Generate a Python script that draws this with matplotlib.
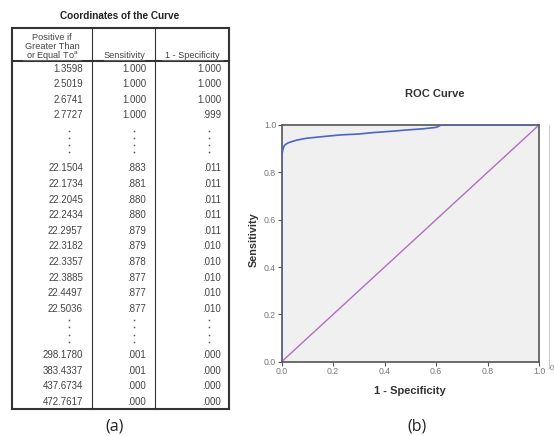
import matplotlib
matplotlib.use("Agg")
import matplotlib.pyplot as plt
from matplotlib.lines import Line2D

# ---------------- data ----------------
# table (a): coordinates of the curve
thr_top = ["1.3598", "2.5019", "2.6741", "2.7727"]
sens_top = ["1.000", "1.000", "1.000", "1.000"]
spec_top = ["1.000", "1.000", "1.000", ".999"]

thr_mid = ["22.1504", "22.1734", "22.2045", "22.2434", "22.2957",
           "22.3182", "22.3357", "22.3885", "22.4497", "22.5036"]
sens_mid = [".883", ".881", ".880", ".880", ".879",
            ".879", ".878", ".877", ".877", ".877"]
spec_mid = [".011", ".011", ".011", ".011", ".011",
            ".010", ".010", ".010", ".010", ".010"]

thr_bot = ["298.1780", "383.4337", "437.6734", "472.7617"]
sens_bot = [".001", ".001", ".000", ".000"]
spec_bot = [".000", ".000", ".000", ".000"]

# plot (b): ROC curve
roc_fpr = [0.0, 0.0, 0.0, 0.002, 0.004, 0.009, 0.015, 0.026, 0.04, 0.058,
           0.097, 0.15, 0.227, 0.3, 0.356, 0.42, 0.486, 0.55, 0.6, 0.62, 0.7, 0.85, 1.0]
roc_tpr = [0.0, 0.5, 0.866, 0.88, 0.894, 0.911, 0.918, 0.925, 0.93, 0.936,
           0.944, 0.95, 0.958, 0.962, 0.968, 0.973, 0.979, 0.984, 0.99, 1.0, 1.0, 1.0, 1.0]
ref_x = [0.0, 1.0]
ref_y = [0.0, 1.0]
ticks = [0.0, 0.2, 0.4, 0.6, 0.8, 1.0]

# ---------------- figure ----------------
W, H = 554, 436
fig = plt.figure(figsize=(W / 100, H / 100), dpi=100)
fig.patch.set_facecolor("white")

# full-figure overlay in pixel coordinates for the table
ov = fig.add_axes([0, 0, 1, 1])
ov.set_xlim(0, W)
ov.set_ylim(H, 0)
ov.axis("off")

tf = "Liberation Sans"
tc = "#444444"
fs = 7

ov.text(120, 16, "Coordinates of the Curve", ha="center", va="center",
        fontsize=7.2, fontweight="bold", family=tf, color="#222222")

# table frame
L, C1, C2, R = 11.7, 92.3, 155, 228.5
T, HB, B = 27.7, 61, 409.3
lc = "#333333"
for x in (L, R):
    ov.add_line(Line2D([x, x], [T, B], color=lc, lw=1.5))
for x in (C1, C2):
    ov.add_line(Line2D([x, x], [T, B], color=lc, lw=0.8))
ov.add_line(Line2D([L, R], [T, T], color=lc, lw=1.5))
ov.add_line(Line2D([L, R], [B, B], color=lc, lw=1.5))
ov.add_line(Line2D([L, R], [HB, HB], color=lc, lw=1.5))

# header
hdr_fs = 6.6
ov.text(52, 37, "Positive if", ha="center", va="center", fontsize=hdr_fs, family=tf, color=tc)
ov.text(52, 46.5, "Greater Than", ha="center", va="center", fontsize=hdr_fs, family=tf, color=tc)
ov.text(52, 56, "or Equal To$^{\\mathregular{a}}$", ha="center", va="center",
        fontsize=hdr_fs, family=tf, color=tc)
ov.text(124, 56, "Sensitivity", ha="center", va="center", fontsize=hdr_fs, family=tf, color=tc)
ov.text(192, 56, "1 - Specificity", ha="center", va="center", fontsize=hdr_fs, family=tf, color=tc)
for x0, x1 in ((23, 81), (104, 144), (162, 223)):
    ov.add_line(Line2D([x0, x1], [59.8, 59.8], color="#777777", lw=0.5))

col_x = [83, 146, 221]

def put_rows(y0, dy, cols):
    for i, (a, b, c) in enumerate(zip(*cols)):
        y = y0 + i * dy
        for x, s in zip(col_x, (a, b, c)):
            ov.text(x, y, s, ha="right", va="center", fontsize=fs, family=tf, color=tc)

put_rows(68.5, 15.6, (thr_top, sens_top, spec_top))
put_rows(168.3, 15.63, (thr_mid, sens_mid, spec_mid))
put_rows(355, 15.55, (thr_bot, sens_bot, spec_bot))

def put_dots(y_start, y_end):
    n = 4
    for k in range(n):
        y = y_start + k * (y_end - y_start) / (n - 1)
        for x in (69, 134, 209):
            ov.plot([x], [y], marker="s", ms=1.1, color="#555555", mec="none")

put_dots(131, 152)
put_dots(320, 342)

ov.text(115, 426, "(a)", ha="center", va="center", fontsize=11.5,
        family="Open Sans", color="#222222")
ov.text(417, 426, "(b)", ha="center", va="center", fontsize=11.5,
        family="Open Sans", color="#222222")

# faint frame line at the right (edge of a cropped panel) and stray "0"
ov.add_line(Line2D([548.5, 548.5], [125, 368], color="#cccccc", lw=0.8))
ov.text(549.5, 368, "0", ha="left", va="center", fontsize=5.5, family=tf, color="#777777")

# ---------------- ROC axes ----------------
x0p, x1p = 281.7, 539.0
y1p, y0p = 125.0, 361.7
ax = fig.add_axes([x0p / W, (H - y0p) / H, (x1p - x0p) / W, (y0p - y1p) / H])
ax.set_facecolor("#f0f0f0")
ax.plot(ref_x, ref_y, color="#b070c0", lw=1.0, zorder=2)
ax.plot(roc_fpr, roc_tpr, color="#4a64c8", lw=1.2, zorder=3)
ax.set_xlim(0, 1)
ax.set_ylim(0, 1)
ax.set_xticks(ticks)
ax.set_yticks(ticks)
ax.set_xticklabels([f"{t:.1f}" for t in ticks])
ax.set_yticklabels([f"{t:.1f}" for t in ticks])
for sp in ax.spines.values():
    sp.set_color("#555555")
    sp.set_linewidth(1.2)
ax.tick_params(direction="out", length=3, width=0.8, color="#555555",
               labelsize=6.3, labelcolor="#777777", pad=1)
for lab in ax.get_xticklabels() + ax.get_yticklabels():
    lab.set_family(tf)

fig.text(435 / W, 1 - 94 / H, "ROC Curve", ha="center", va="center",
         fontsize=8, fontweight="bold", family=tf, color="#333333")
fig.text(410 / W, 1 - 391 / H, "1 - Specificity", ha="center", va="center",
         fontsize=8, fontweight="bold", family=tf, color="#333333")
fig.text(254 / W, 1 - 240 / H, "Sensitivity", ha="center", va="center", rotation=90,
         fontsize=7.8, fontweight="bold", family=tf, color="#333333")

fig.savefig("out.png", dpi=100)
